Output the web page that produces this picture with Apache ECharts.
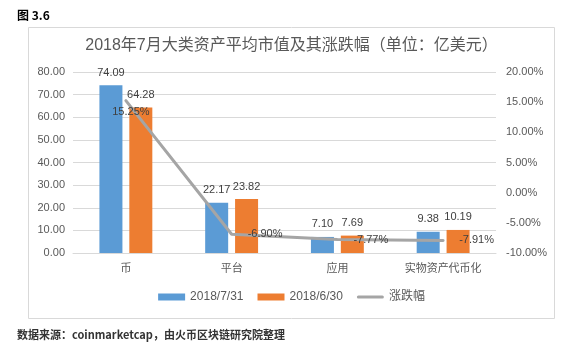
<!DOCTYPE html>
<html><head><meta charset="utf-8">
<script src="https://cdn.jsdelivr.net/npm/echarts@6/dist/echarts.min.js"></script>
<style>html,body{margin:0;padding:0;background:#fff}#c{width:583px;height:347px}</style>
</head><body><div id="c"></div>
<script>
var categories = ['币', '平台', '应用', '实物资产代币化'];
var seriesNames = ['2018/7/31', '2018/6/30', '涨跌幅'];
var jul31 = [74.09, 22.17, 7.10, 9.38];
var jun30 = [64.28, 23.82, 7.69, 10.19];
var change = [15.25, -6.90, -7.77, -7.91];
var leftTicks = [0, 80, 10];
var rightTicks = [-10, 20, 5];

var FONT = '"Liberation Sans", "Noto Sans CJK SC", sans-serif';
var chart = echarts.init(document.getElementById('c'));
chart.setOption({
  animation: false,
  textStyle: {fontFamily: FONT},
  graphic: [{type: 'rect', shape: {x: 28.5, y: 27.5, width: 526, height: 291}, style: {fill: 'none', stroke: '#D9D9D9', lineWidth: 1}, silent: true}],
  title: [
    {text: '2018年7月大类资产平均市值及其涨跌幅（单位：亿美元）', left: 'center', top: 33, textStyle: {fontSize: 16, fontWeight: 'normal', color: '#595959', fontFamily: FONT}},
    {text: '图 3.6', left: 12, top: 4, textStyle: {fontSize: 12, fontWeight: 'bold', color: '#000', fontFamily: '"Noto Sans CJK SC", serif'}},
    {text: '数据来源：coinmarketcap，由火币区块链研究院整理', left: 12, top: 324, textStyle: {fontSize: 11, fontWeight: 'bold', color: '#333', fontFamily: '"Noto Sans CJK SC", sans-serif'}}
  ],
  legend: {
    bottom: 39, left: 'center', itemWidth: 27, itemHeight: 7, itemGap: 14,
    textStyle: {fontSize: 12, color: '#595959', fontFamily: FONT},
    data: [{name: seriesNames[0], icon: 'rect'}, {name: seriesNames[1], icon: 'rect'},
           {name: seriesNames[2], icon: 'path://M1.5,0 L25.5,0 A1.5,1.5 0 0 1 25.5,3 L1.5,3 A1.5,1.5 0 0 1 1.5,0 Z'}]
  },
  grid: {left: 73, right: 87, top: 72, bottom: 94},
  xAxis: {
    type: 'category', data: categories,
    axisLine: {lineStyle: {color: '#D9D9D9'}}, axisTick: {show: false},
    axisLabel: {color: '#595959', fontSize: 11, margin: 10, fontFamily: FONT}
  },
  yAxis: [
    {type: 'value', min: leftTicks[0], max: leftTicks[1], interval: leftTicks[2],
     axisLine: {show: false}, axisTick: {show: false},
     splitLine: {lineStyle: {color: '#D9D9D9'}},
     axisLabel: {color: '#595959', fontSize: 11, margin: 8, formatter: function(v){return v.toFixed(2);}}},
    {type: 'value', min: rightTicks[0], max: rightTicks[1], interval: rightTicks[2],
     axisLine: {show: false}, axisTick: {show: false}, splitLine: {show: false},
     axisLabel: {color: '#595959', fontSize: 11, margin: 10, formatter: function(v){return v.toFixed(2) + '%';}}}
  ],
  series: [
    {name: seriesNames[0], type: 'bar', data: jul31, barWidth: 23, barGap: '30%',
     itemStyle: {color: '#5B9BD5'},
     label: {show: true, position: 'top', color: '#404040', fontSize: 11, distance: 7, formatter: function(p){return p.value.toFixed(2);}}},
    {name: seriesNames[1], type: 'bar', data: jun30, barWidth: 23,
     itemStyle: {color: '#ED7D31'},
     label: {show: true, position: 'top', color: '#404040', fontSize: 11, distance: 7, formatter: function(p){return p.value.toFixed(2);}}},
    {name: seriesNames[2], type: 'line', yAxisIndex: 1, data: change.map(function(v, i){
        return i === 0 ? {value: v, label: {position: 'bottom', distance: 4, offset: [5, 2]}} : v;
      }),
     symbol: 'circle', symbolSize: 0.01, showSymbol: true,
     lineStyle: {color: '#A5A5A5', width: 3, cap: 'round'}, itemStyle: {color: '#A5A5A5'},
     label: {show: true, position: 'right', color: '#404040', fontSize: 11, distance: 16, formatter: function(p){return p.value.toFixed(2) + '%';}}}
  ]
});
</script></body></html>
